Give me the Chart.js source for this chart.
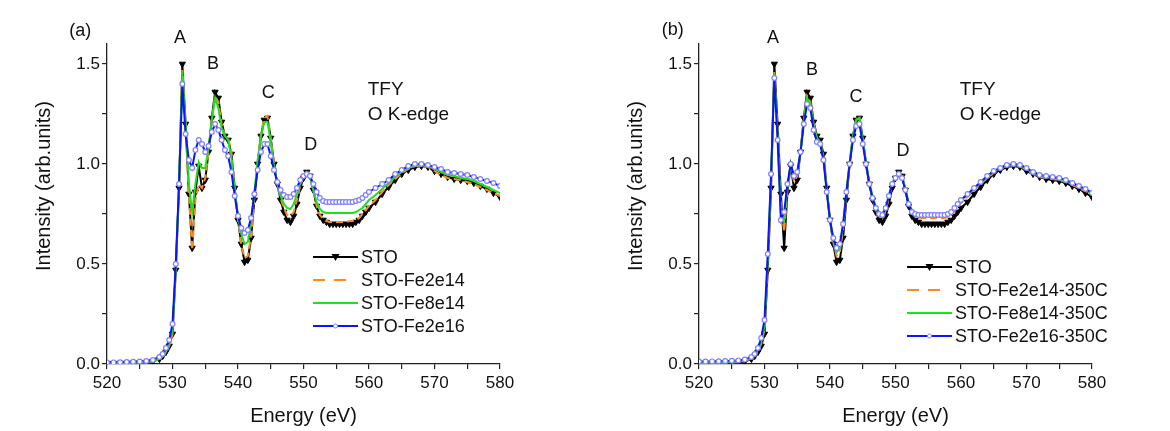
<!DOCTYPE html>
<html>
<head>
<meta charset="utf-8">
<script src="https://cdn.jsdelivr.net/npm/chart.js@4.4.1/dist/chart.umd.min.js"></script>
<style>
body{margin:0;background:#fff;width:1170px;height:431px;overflow:hidden;position:relative}
canvas{position:absolute;top:0}
</style>
</head>
<body>
<canvas id="chartA" width="560" height="431" style="left:0"></canvas>
<canvas id="chartB" width="610" height="431" style="left:560px"></canvas>
<script>
// photon energy (eV), shared by every curve
var energy = [520,521,522,523,524,525,526,527,
  528,528.5,529,529.5,530,530.5,531,531.5,532,532.5,
  533,533.5,534,534.5,535,535.5,536,536.5,537,537.5,
  538,538.5,539,539.5,540,540.5,541,541.5,542,542.5,
  543,543.5,544,544.5,545,545.5,546,546.5,547,547.5,
  548,548.5,549,549.5,550,550.5,551,551.5,552,552.5,
  553,553.5,554,554.5,555,555.5,556,556.5,557,557.5,
  558,558.5,559,559.5,560,
  561,562,563,564,565,566,567,568,569,570,
  571,572,573,574,575,576,577,578,579,580];

// STO reference (same curve in both panels)
var sto = [0.004,0.004,0.005,0.005,0.006,0.007,0.009,0.013,
  0.025,0.04,0.06,0.09,0.15,0.47,0.88,1.50,1.20,0.85,
  0.58,0.86,0.99,0.88,0.92,1.06,1.23,1.36,1.33,1.21,
  1.14,1.12,1.05,0.88,0.72,0.60,0.51,0.52,0.63,0.82,
  1.00,1.14,1.22,1.23,1.13,1.00,0.90,0.82,0.76,0.72,
  0.71,0.74,0.80,0.88,0.93,0.96,0.94,0.87,0.79,0.74,
  0.72,0.71,0.70,0.70,0.70,0.70,0.70,0.70,0.70,0.70,
  0.71,0.72,0.74,0.76,0.78,
  0.81,0.85,0.885,0.92,0.95,0.97,0.985,0.99,0.985,0.965,
  0.95,0.935,0.925,0.92,0.915,0.905,0.89,0.875,0.855,0.835];

// panel (a): as-implanted
var fe2e14a = [0.004,0.004,0.005,0.005,0.006,0.007,0.009,0.013,
  0.025,0.04,0.06,0.09,0.15,0.46,0.88,1.47,1.20,0.85,
  0.57,0.82,0.90,0.88,0.93,1.06,1.22,1.34,1.31,1.20,
  1.14,1.13,1.06,0.88,0.72,0.60,0.53,0.54,0.64,0.83,
  1.01,1.15,1.23,1.24,1.13,1.00,0.90,0.83,0.78,0.745,
  0.74,0.76,0.82,0.89,0.94,0.96,0.94,0.87,0.79,0.745,
  0.725,0.715,0.71,0.71,0.71,0.71,0.71,0.71,0.715,0.715,
  0.72,0.73,0.75,0.77,0.79,
  0.82,0.86,0.895,0.925,0.955,0.975,0.99,0.99,0.985,0.965,
  0.945,0.93,0.925,0.92,0.91,0.90,0.885,0.87,0.855,0.84];
var fe8e14a = [0.004,0.004,0.005,0.005,0.006,0.007,0.009,0.013,
  0.025,0.04,0.06,0.10,0.17,0.48,0.90,1.46,1.20,0.90,
  0.76,0.90,1.01,0.98,0.98,1.08,1.22,1.33,1.28,1.18,
  1.14,1.12,1.03,0.87,0.74,0.65,0.60,0.61,0.70,0.86,
  1.02,1.14,1.21,1.21,1.11,0.99,0.90,0.84,0.80,0.78,
  0.775,0.80,0.85,0.90,0.94,0.955,0.93,0.87,0.81,0.775,
  0.76,0.755,0.755,0.755,0.755,0.755,0.755,0.755,0.755,0.755,
  0.76,0.77,0.78,0.80,0.82,
  0.845,0.875,0.905,0.935,0.96,0.98,0.99,0.995,0.99,0.975,
  0.96,0.945,0.94,0.93,0.925,0.915,0.90,0.885,0.87,0.855];
var fe2e16a = [0.008,0.008,0.009,0.01,0.011,0.012,0.015,0.02,
  0.035,0.05,0.08,0.12,0.20,0.50,0.90,1.40,1.15,1.02,
  0.98,1.07,1.12,1.10,1.06,1.09,1.16,1.20,1.17,1.12,
  1.07,1.04,0.96,0.84,0.74,0.68,0.655,0.67,0.73,0.85,
  0.97,1.06,1.10,1.10,1.04,0.97,0.91,0.87,0.845,0.835,
  0.835,0.85,0.88,0.92,0.94,0.95,0.94,0.90,0.86,0.83,
  0.815,0.81,0.81,0.81,0.81,0.81,0.81,0.81,0.81,0.81,
  0.815,0.82,0.83,0.845,0.86,
  0.88,0.90,0.92,0.95,0.97,0.99,1.00,1.00,0.995,0.985,
  0.975,0.96,0.955,0.95,0.945,0.935,0.925,0.915,0.905,0.89];

// panel (b): annealed at 350C
var fe2e14b = [0.005,0.005,0.006,0.006,0.007,0.008,0.01,0.014,
  0.028,0.043,0.065,0.10,0.17,0.50,0.90,1.46,1.17,0.80,
  0.66,0.87,1.00,0.91,0.94,1.06,1.22,1.34,1.31,1.20,
  1.13,1.11,1.04,0.87,0.72,0.61,0.54,0.56,0.67,0.85,
  1.01,1.14,1.22,1.23,1.12,1.00,0.90,0.83,0.77,0.735,
  0.73,0.765,0.83,0.895,0.935,0.955,0.935,0.875,0.80,0.755,
  0.74,0.735,0.73,0.73,0.73,0.73,0.73,0.73,0.73,0.73,
  0.735,0.745,0.765,0.785,0.805,
  0.835,0.87,0.90,0.93,0.955,0.975,0.99,0.995,0.99,0.97,
  0.95,0.935,0.93,0.925,0.92,0.91,0.895,0.88,0.865,0.845];
var fe8e14b = [0.006,0.006,0.007,0.008,0.009,0.01,0.012,0.016,
  0.03,0.045,0.07,0.11,0.19,0.52,0.93,1.45,1.15,0.75,
  0.72,0.88,1.00,0.93,0.95,1.06,1.22,1.33,1.30,1.19,
  1.13,1.11,1.03,0.87,0.72,0.62,0.56,0.58,0.69,0.86,
  1.01,1.14,1.22,1.23,1.12,1.01,0.91,0.84,0.785,0.755,
  0.75,0.785,0.845,0.905,0.935,0.955,0.935,0.88,0.81,0.77,
  0.755,0.75,0.75,0.75,0.75,0.75,0.75,0.75,0.75,0.75,
  0.755,0.765,0.78,0.80,0.82,
  0.845,0.875,0.905,0.935,0.96,0.98,0.99,0.995,0.99,0.975,
  0.955,0.94,0.935,0.93,0.925,0.915,0.90,0.885,0.87,0.85];
var fe2e16b = [0.012,0.012,0.013,0.014,0.015,0.016,0.018,0.022,
  0.035,0.05,0.08,0.13,0.22,0.55,0.95,1.43,1.12,0.72,
  0.76,0.90,1.00,0.94,0.96,1.06,1.20,1.30,1.28,1.17,
  1.11,1.10,1.02,0.86,0.72,0.63,0.58,0.60,0.70,0.86,
  1.00,1.12,1.19,1.20,1.10,1.00,0.90,0.83,0.78,0.75,
  0.745,0.78,0.84,0.90,0.93,0.95,0.93,0.87,0.80,0.76,
  0.75,0.745,0.745,0.745,0.745,0.745,0.745,0.745,0.745,0.745,
  0.75,0.76,0.78,0.80,0.82,
  0.85,0.88,0.91,0.94,0.965,0.98,0.995,1.00,0.995,0.98,
  0.96,0.945,0.94,0.935,0.93,0.92,0.905,0.89,0.875,0.855];

var namesA = ['STO', 'STO-Fe2e14', 'STO-Fe8e14', 'STO-Fe2e16'];
var namesB = ['STO', 'STO-Fe2e14-350C', 'STO-Fe8e14-350C', 'STO-Fe2e16-350C'];
var peakNames = ['A', 'B', 'C', 'D'];

var FONT = "'Liberation Sans', Arial, sans-serif";
var INK = '#111';
var colors = ['#000000', '#ff8a1c', '#1ee01e', '#0a14ff'];

function pts(ys) {
  return energy.map(function(e, i) { return {x: e, y: ys[i]}; });
}

function makeDatasets(list, names) {
  return [
    {label: names[0], data: pts(list[0]), borderColor: colors[0], borderWidth: 2,
     pointStyle: 'triangle', pointRotation: 180, pointRadius: 3.6,
     pointBackgroundColor: '#000', pointBorderColor: '#000', pointBorderWidth: 1, order: 4},
    {label: names[1], data: pts(list[1]), borderColor: colors[1], borderWidth: 2,
     borderDash: [7, 4], pointRadius: 0, order: 3},
    {label: names[2], data: pts(list[2]), borderColor: colors[2], borderWidth: 2,
     pointRadius: 0, order: 2},
    {label: names[3], data: pts(list[3]), borderColor: colors[3], borderWidth: 2,
     pointStyle: 'circle', pointRadius: 2.4, pointBorderWidth: 1.2,
     pointBackgroundColor: '#ffffff', pointBorderColor: '#7f7fff', order: 1}
  ];
}

// texts, peak letters and legend drawn over the plot
var overlay = {
  id: 'overlay',
  afterDraw: function(chart, args, o) {
    var ctx = chart.ctx, xs = chart.scales.x, ys = chart.scales.y;
    function px(e) { return xs.getPixelForValue(e); }
    function py(v) { return ys.getPixelForValue(v); }
    ctx.save();
    ctx.fillStyle = INK;
    ctx.textBaseline = 'middle';

    // y axis title
    ctx.save();
    ctx.translate(o.yTitleX, 186);
    ctx.rotate(-Math.PI / 2);
    ctx.textAlign = 'center';
    ctx.font = '20px ' + FONT;
    ctx.fillText('Intensity (arb.units)', 0, 0);
    ctx.restore();

    ctx.font = '18px ' + FONT;
    ctx.textAlign = 'center';
    ctx.fillText(o.panel, px(o.panelAt[0]), py(o.panelAt[1]));
    for (var i = 0; i < peakNames.length; i++) {
      ctx.fillText(peakNames[i], px(o.peakE[i]), py(o.peakV[i]));
    }
    ctx.textAlign = 'left';
    ctx.font = '19px ' + FONT;
    ctx.fillText('TFY', px(559.8), py(1.37));
    ctx.fillText('O K-edge', px(559.8), py(1.245));

    // legend
    var x0 = px(o.legendAt[0]), y0 = py(o.legendAt[1]);
    ctx.font = '18px ' + FONT;
    for (var k = 0; k < 4; k++) {
      var y = y0 + k * 23;
      ctx.strokeStyle = colors[k];
      ctx.lineWidth = 2.2;
      ctx.setLineDash(k === 1 ? [12, 9] : []);
      ctx.beginPath();
      ctx.moveTo(x0, y);
      ctx.lineTo(x0 + (k === 1 ? 33 : 45), y);
      ctx.stroke();
      ctx.setLineDash([]);
      if (k === 0) {
        ctx.fillStyle = '#000';
        ctx.beginPath();
        ctx.moveTo(x0 + 18.5, y - 3);
        ctx.lineTo(x0 + 26.5, y - 3);
        ctx.lineTo(x0 + 22.5, y + 4);
        ctx.closePath();
        ctx.fill();
      }
      if (k === 3) {
        ctx.fillStyle = '#fff';
        ctx.strokeStyle = '#7f7fff';
        ctx.lineWidth = 1;
        ctx.beginPath();
        ctx.arc(x0 + 22.5, y, 2, 0, Math.PI * 2);
        ctx.fill();
        ctx.stroke();
      }
      ctx.fillStyle = INK;
      ctx.fillText(o.names[k], x0 + 48, y + 1);
    }
    ctx.restore();
  }
};

function buildChart(id, list, names, o) {
  o.names = names;
  return new Chart(document.getElementById(id), {
    type: 'line',
    data: {datasets: makeDatasets(list, names)},
    options: {
      responsive: false,
      animation: false,
      layout: {padding: {top: 44, right: o.padRight, left: 0, bottom: 0}},
      elements: {line: {tension: 0}},
      plugins: {legend: {display: false}, tooltip: {enabled: false}, overlay: o},
      scales: {
        x: {
          type: 'linear', min: 520, max: 580,
          afterFit: function(s) { s.height = 67; },
          ticks: {stepSize: 5, padding: 4, color: INK, maxRotation: 0,
                  font: {family: FONT, size: 17},
                  callback: function(v) { return v % 10 === 0 ? v : ''; }},
          grid: {drawOnChartArea: false, tickLength: 5, color: '#222', lineWidth: 1.2},
          border: {color: '#222', width: 1.3},
          title: {display: true, text: 'Energy (eV)', color: INK,
                  font: {family: FONT, size: 20}, padding: {top: 0, bottom: 3}}
        },
        y: {
          min: 0, max: 1.6,
          afterFit: function(s) { s.width = o.yWidth; },
          ticks: {stepSize: 0.25, includeBounds: false, padding: 2, color: INK,
                  font: {family: FONT, size: 17},
                  callback: function(v) {
                    return Math.abs(v * 2 - Math.round(v * 2)) < 1e-6 ? v.toFixed(1) : '';
                  }},
          grid: {drawOnChartArea: false, tickLength: 5, color: '#222', lineWidth: 1.2},
          border: {color: '#222', width: 1.3}
        }
      }
    },
    plugins: [overlay]
  });
}

buildChart('chartA', [sto, fe2e14a, fe8e14a, fe2e16a], namesA, {
  padRight: 60, yWidth: 107, yTitleX: 44, panel: '(a)', panelAt: [515.9, 1.665],
  peakE: [531.15, 536.2, 544.6, 551.1], peakV: [1.63, 1.5, 1.355, 1.095],
  legendAt: [551.45, 0.535]
});
buildChart('chartB', [sto, fe2e14b, fe8e14b, fe2e16b], namesB, {
  padRight: 78, yWidth: 139, yTitleX: 76, panel: '(b)', panelAt: [516.0, 1.67],
  peakE: [531.3, 537.25, 543.97, 551.15], peakV: [1.63, 1.47, 1.335, 1.065],
  legendAt: [551.76, 0.485]
});
</script>
</body>
</html>
